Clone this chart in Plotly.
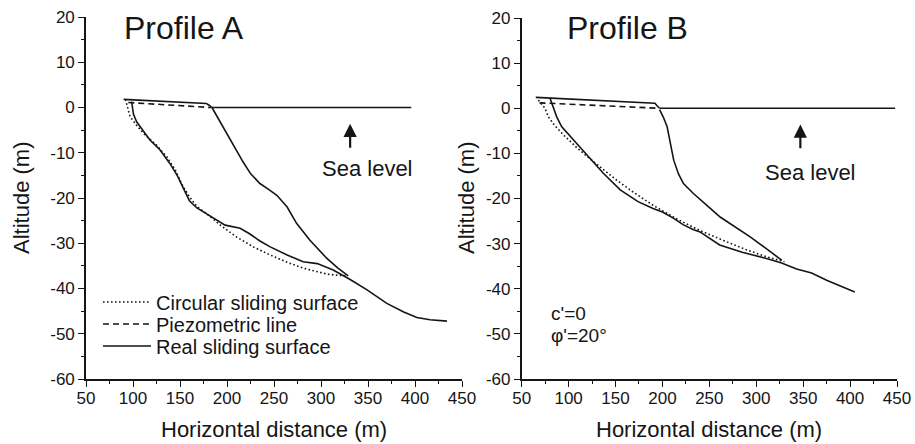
import plotly.graph_objects as go

# ---------------- data ----------------
x_ticks = [50, 100, 150, 200, 250, 300, 350, 400, 450]
x_ticklabels = ["50", "100", "150", "200", "250", "300", "350", "400", "450"]
y_ticks = [20, 10, 0, -10, -20, -30, -40, -50, -60]
y_ticklabels = ["20", "10", "0", "-10", "-20", "-30", "-40", "-50", "-60"]

# Profile A
A_top_x = [90, 130, 178, 181, 184]
A_top_y = [1.8, 1.4, 0.9, 0.5, 0.0]
A_sea_x = [184, 396]
A_sea_y = [0, 0]
A_piezo_x = [95, 183]
A_piezo_y = [1.1, 0.0]
A_slide_x = [98.6, 100.5, 104, 108, 118, 128, 139, 147, 153, 160, 168, 182, 198, 214, 224, 235,
             246, 264, 281, 296, 313, 331, 349, 370, 388, 402, 416, 434]
A_slide_y = [1.3, -1.5, -3.2, -4.4, -7.2, -9.2, -12.3, -15.0, -17.5, -20.6, -22.2, -24.0, -26.0,
             -26.7, -27.9, -29.5, -30.8, -32.6, -34.1, -34.5, -35.9, -38.0, -40.3, -43.3, -45.2,
             -46.4, -46.9, -47.2]
A_circ_x = [92, 96.8, 104, 111, 125, 136, 145, 152, 160, 168, 178, 193, 210, 228, 246, 264, 281,
            295, 306, 318, 328]
A_circ_y = [1.8, -2.0, -4.0, -5.7, -8.3, -10.9, -13.8, -17.0, -19.7, -21.9, -23.4, -26.0, -28.6,
            -30.8, -32.6, -34.2, -35.5, -36.3, -36.8, -37.1, -37.2]
A_upper_x = [184, 190, 196, 203, 210, 217, 225, 235, 245, 253, 264, 274, 288, 306, 318, 329]
A_upper_y = [0, -2.2, -4.2, -6.8, -9.4, -12.0, -14.6, -16.8, -18.2, -19.4, -22.0, -25.6, -29.3,
             -33.3, -35.5, -37.2]

# Profile B
B_top_x = [65, 120, 176, 192, 194.5, 197]
B_top_y = [2.4, 1.8, 1.2, 1.1, 0.5, 0.0]
B_sea_x = [197, 448]
B_sea_y = [0, 0]
B_piezo_x = [69, 196]
B_piezo_y = [1.2, 0.0]
B_slide_x = [80.2, 83.7, 87.3, 92.7, 105, 119, 137, 155, 174, 190, 200, 212, 222, 232, 240, 261,
             285, 311, 327, 343, 359, 375, 390, 405]
B_slide_y = [2.2, 0.3, -1.9, -4.1, -7.0, -10.4, -14.4, -18.1, -20.7, -22.2, -23.0, -24.4, -25.8,
             -26.8, -27.4, -30.3, -31.9, -33.3, -34.3, -35.6, -36.5, -38.1, -39.4, -40.7]
B_circ_x = [67.7, 74.8, 78.4, 85, 95, 110, 133.5, 151, 169, 190, 215, 240, 265, 290, 312, 330]
B_circ_y = [1.8, 0.0, -1.9, -3.8, -6.0, -9.0, -13.0, -15.9, -18.6, -21.5, -24.5, -27.1, -29.3,
            -31.4, -33.0, -34.0]
B_upper_x = [197, 201, 205, 208.5, 212, 217, 222.4, 233, 241, 251, 261.5, 277, 293.5, 310, 327.3]
B_upper_y = [-0.3, -2.0, -4.1, -7.5, -11.5, -14.5, -16.7, -18.9, -20.3, -22.2, -24.1, -26.2,
             -28.5, -31.0, -33.7]

legend_names = ["Circular sliding surface", "Piezometric line", "Real sliding surface"]

# ---------------- figure ----------------
INK = "#151515"
FONT = "Liberation Sans, Arial, Helvetica, sans-serif"
LW = 1.6
DOT = "1.6px,2.4px"
DASH = "6px,4px"
W, H = 915, 444

fig = go.Figure()


def add(x, y, xa, ya, dash="solid", name=None, legend=None):
    fig.add_trace(go.Scatter(
        x=x, y=y, mode="lines", xaxis=xa, yaxis=ya,
        line=dict(color=INK, width=LW, dash=dash),
        name=name, showlegend=legend is not None, legend=legend or "legend",
        hoverinfo="skip"))


# Profile A
add(A_circ_x, A_circ_y, "x", "y", DOT, legend_names[0], "legend")
add(A_piezo_x, A_piezo_y, "x", "y", DASH, legend_names[1], "legend2")
add(A_slide_x, A_slide_y, "x", "y", "solid", legend_names[2], "legend3")
add(A_top_x, A_top_y, "x", "y")
add(A_sea_x, A_sea_y, "x", "y")
add(A_upper_x, A_upper_y, "x", "y")
# Profile B
add(B_circ_x, B_circ_y, "x2", "y2", DOT)
add(B_piezo_x, B_piezo_y, "x2", "y2", DASH)
add(B_slide_x, B_slide_y, "x2", "y2")
add(B_top_x, B_top_y, "x2", "y2")
add(B_sea_x, B_sea_y, "x2", "y2")
add(B_upper_x, B_upper_y, "x2", "y2")


def xaxis(domain, anchor):
    return dict(domain=domain, range=[50, 450], tickvals=x_ticks, ticktext=x_ticklabels,
                anchor=anchor, automargin=False, ticklabelstandoff=-3,
                ticks="outside", ticklen=6, tickwidth=1.4, tickcolor=INK,
                showline=True, linewidth=1.6, linecolor=INK, showgrid=False, zeroline=False,
                tickfont=dict(size=17, color=INK, family=FONT),
                minor=dict(ticks="outside", ticklen=3, tickwidth=1.2, tickcolor=INK, dtick=25,
                           tick0=50, showgrid=False),
                fixedrange=True)


def yaxis(domain, anchor):
    return dict(domain=domain, range=[-60, 20], tickvals=y_ticks, ticktext=y_ticklabels,
                anchor=anchor, automargin=False,
                ticks="outside", ticklen=6, tickwidth=1.4, tickcolor=INK,
                showline=True, linewidth=1.6, linecolor=INK, showgrid=False, zeroline=False,
                tickfont=dict(size=17, color=INK, family=FONT),
                minor=dict(ticks="outside", ticklen=3, tickwidth=1.2, tickcolor=INK, dtick=5,
                           tick0=0, showgrid=False),
                fixedrange=True)


def legend_at(ymid):
    return dict(x=98 / W, y=(H - ymid) / H, xanchor="left", yanchor="middle",
                bgcolor="rgba(0,0,0,0)", font=dict(size=20, color=INK, family=FONT),
                itemwidth=48, borderwidth=0)


fig.update_layout(
    width=W, height=H,
    margin=dict(l=0, r=0, t=0, b=0, autoexpand=False),
    paper_bgcolor="white", plot_bgcolor="white",
    font=dict(family=FONT, color=INK),
    xaxis=xaxis([86 / W, 462 / W], "y"),
    yaxis=yaxis([(H - 379) / H, (H - 17) / H], "x"),
    xaxis2=xaxis([521.7 / W, 897 / W], "y2"),
    yaxis2=yaxis([(H - 379) / H, (H - 18) / H], "x2"),
    showlegend=True,
    legend=legend_at(302),
    legend2=legend_at(324),
    legend3=legend_at(346),
)

ann = []
txt = dict(showarrow=False, xanchor="center", yanchor="middle")
# panel titles
ann.append(dict(text="Profile A", x=184 / W, y=(H - 28) / H, xref="paper", yref="paper",
                font=dict(size=32, family=FONT, color=INK), **txt))
ann.append(dict(text="Profile B", x=627 / W, y=(H - 28) / H, xref="paper", yref="paper",
                font=dict(size=32, family=FONT, color=INK), **txt))
# axis titles
for cx in [274 / W, 709.4 / W]:
    ann.append(dict(text="Horizontal distance (m)", x=cx, y=(H - 429) / H, xref="paper",
                    yref="paper", font=dict(size=22, family=FONT, color=INK), **txt))
for cx in [21 / W, 466 / W]:
    ann.append(dict(text="Altitude (m)", x=cx, y=(H - 198) / H, xref="paper", yref="paper",
                    textangle=-90, font=dict(size=22, family=FONT, color=INK), **txt))
# sea level labels and arrows
ann.append(dict(text="Sea level", x=349, y=-13.5, xref="x", yref="y",
                font=dict(size=22, family=FONT, color=INK), **txt))
ann.append(dict(text="Sea level", x=358, y=-14.3, xref="x2", yref="y2",
                font=dict(size=22, family=FONT, color=INK), **txt))
ann.append(dict(text="", x=331, y=-3.6, ax=331, ay=-9.2, xref="x", yref="y", axref="x",
                ayref="y", showarrow=True, arrowhead=2, arrowsize=1.2, arrowwidth=2.2,
                arrowcolor=INK))
ann.append(dict(text="", x=347, y=-3.6, ax=347, ay=-9.2, xref="x2", yref="y2", axref="x2",
                ayref="y2", showarrow=True, arrowhead=2, arrowsize=1.2, arrowwidth=2.2,
                arrowcolor=INK))
# parameters
ann.append(dict(text="c'=0", x=79, y=-45.4, xref="x2", yref="y2", xanchor="left",
                yanchor="middle", showarrow=False, font=dict(size=19, family=FONT, color=INK)))
ann.append(dict(text="φ'=20°", x=79, y=-50.3, xref="x2", yref="y2", xanchor="left",
                yanchor="middle", showarrow=False, font=dict(size=19, family=FONT, color=INK)))
fig.update_layout(annotations=ann)

fig.write_html("out.html")
